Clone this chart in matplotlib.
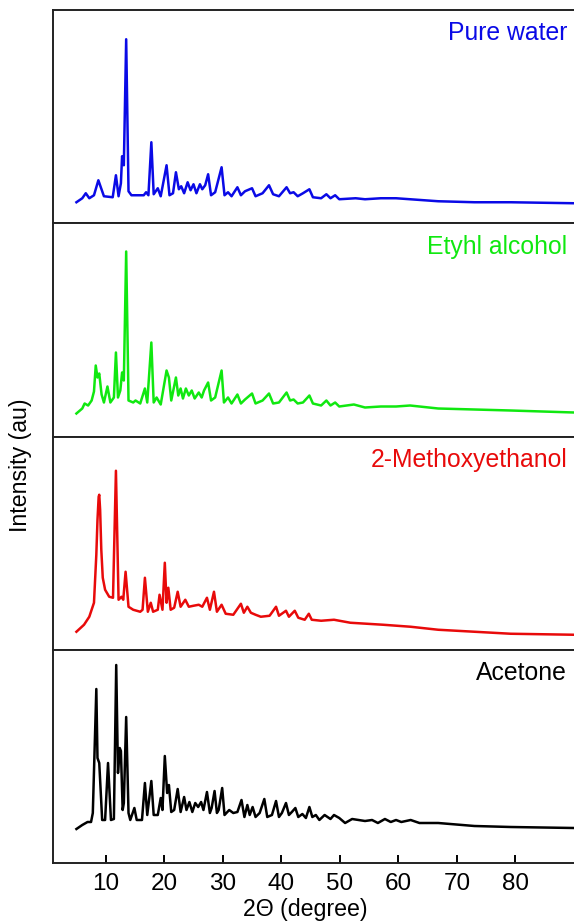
import matplotlib
matplotlib.use('Agg')
import matplotlib.pyplot as plt
import numpy as np

# XRD traces (2theta, intensity), intensity in arbitrary units
water = [(5.0, 21), (6.0, 25), (6.6, 30), (7.2, 25), (8.0, 28), (8.75, 43), (9.7, 27), (11.2, 26),
         (11.75, 48), (12.2, 27), (12.6, 40), (12.8, 67), (13.1, 58), (13.5, 184), (13.9, 32),
         (14.4, 28), (16.5, 28), (16.9, 31), (17.3, 28), (17.8, 81), (18.2, 29), (18.9, 35),
         (19.4, 27), (20.4, 58), (20.9, 28), (21.5, 30), (22.0, 51), (22.5, 34), (22.9, 37),
         (23.4, 30), (24.0, 41), (24.5, 33), (25.0, 39), (25.5, 30), (26.1, 39), (26.5, 34),
         (27.0, 38), (27.5, 49), (28.0, 28), (28.7, 31), (29.8, 56), (30.3, 28), (30.9, 31),
         (31.5, 27), (32.5, 36), (33.1, 28), (33.8, 32), (35.0, 35), (35.6, 27), (36.8, 30),
         (37.9, 38), (38.6, 29), (39.6, 27), (40.9, 36), (41.5, 30), (42.1, 31), (42.8, 27),
         (43.7, 30), (44.8, 34), (45.4, 26), (46.8, 25), (47.7, 29), (48.4, 25), (49.2, 28),
         (49.9, 24), (52.7, 25), (54.3, 24), (57, 25), (59.6, 25), (62, 24), (66.8, 22),
         (73, 21), (79.2, 21), (90, 20)]

ethyl = [(5.0, 23), (6.0, 28), (6.4, 33), (7.0, 31), (7.6, 36), (8.0, 45), (8.3, 71), (8.6, 59),
         (8.9, 63), (9.3, 42), (9.7, 34), (10.3, 50), (10.8, 34), (11.4, 39), (11.75, 84),
         (12.1, 39), (12.5, 46), (12.8, 64), (13.1, 56), (13.5, 185), (13.9, 36), (14.7, 34),
         (15.1, 36), (15.9, 33), (16.7, 48), (17.1, 34), (17.8, 94), (18.2, 34), (18.7, 39),
         (19.4, 32), (20.4, 66), (20.8, 59), (21.2, 36), (22.0, 59), (22.4, 41), (22.8, 48),
         (23.2, 38), (23.7, 48), (24.2, 41), (24.7, 46), (25.2, 38), (25.9, 44), (26.4, 39),
         (26.8, 46), (27.5, 54), (28.0, 36), (28.7, 39), (29.8, 66), (30.2, 34), (30.9, 39),
         (31.5, 33), (32.5, 42), (33.1, 33), (33.8, 37), (35.0, 43), (35.6, 33), (36.8, 36),
         (37.9, 43), (38.6, 33), (39.6, 34), (40.9, 44), (41.5, 36), (42.1, 37), (42.8, 33),
         (43.7, 34), (44.8, 41), (45.4, 33), (46.8, 31), (47.7, 36), (48.4, 31), (49.2, 34),
         (49.9, 30), (52.4, 32), (54.3, 29), (57, 30), (59.6, 30), (62, 31), (66.8, 28),
         (73, 27), (79.2, 26), (90, 24)]

methoxy = [(5.0, 18), (6.3, 25), (7.2, 33), (8.0, 47), (8.4, 95), (8.6, 130), (8.8, 153),
           (8.9, 155), (9.05, 140), (9.25, 100), (9.5, 72), (9.9, 60), (10.6, 53), (11.25, 52),
           (11.75, 179), (12.2, 50), (12.7, 53), (13.0, 50), (13.4, 78), (13.9, 43), (14.7, 40),
           (15.9, 38), (16.3, 40), (16.7, 72), (17.2, 38), (17.7, 47), (18.1, 38), (18.9, 40),
           (19.2, 55), (19.7, 40), (20.1, 87), (20.4, 47), (20.7, 62), (21.1, 40), (21.7, 42),
           (22.3, 58), (22.8, 43), (23.6, 50), (24.2, 43), (25.0, 44), (25.9, 45), (26.5, 43),
           (27.3, 52), (27.8, 40), (28.5, 58), (29.0, 38), (29.8, 45), (30.5, 36), (31.8, 35),
           (33.1, 46), (33.6, 37), (34.2, 43), (34.8, 37), (35.6, 35), (36.5, 33), (38.0, 34),
           (39.1, 43), (39.6, 34), (40.8, 39), (41.3, 33), (42.3, 39), (42.9, 32), (44.0, 30),
           (44.7, 36), (45.2, 30), (46.8, 29), (49, 30), (51.8, 27), (57.4, 25), (62.1, 23),
           (66.8, 20), (73, 18), (79.2, 16), (90, 15)]

acetone = [(5.0, 34), (6.0, 38), (6.9, 41), (7.5, 41), (7.8, 50), (8.4, 174), (8.6, 105), (8.9, 100),
           (9.4, 43), (9.9, 43), (10.4, 100), (10.9, 43), (11.4, 44), (11.8, 198), (12.1, 90),
           (12.4, 115), (12.6, 112), (12.9, 53), (13.1, 60), (13.5, 146), (13.9, 50), (14.2, 43),
           (14.9, 55), (15.3, 43), (16.2, 43), (16.7, 80), (17.1, 48), (17.8, 82), (18.2, 48),
           (18.9, 48), (19.4, 65), (19.7, 53), (20.1, 107), (20.5, 70), (20.8, 78), (21.2, 51),
           (21.7, 53), (22.3, 74), (22.8, 51), (23.4, 66), (23.8, 53), (24.3, 61), (24.8, 51),
           (25.3, 60), (25.8, 56), (26.3, 61), (26.7, 53), (27.3, 71), (27.8, 50), (28.1, 55),
           (28.6, 72), (29.0, 50), (29.3, 53), (29.9, 75), (30.3, 48), (31.1, 53), (31.8, 50),
           (32.5, 51), (33.2, 63), (33.7, 46), (34.2, 58), (34.6, 48), (35.1, 56), (35.6, 46),
           (36.3, 50), (37.1, 64), (37.6, 46), (38.4, 48), (39.1, 62), (39.6, 46), (40.1, 50),
           (40.8, 60), (41.3, 48), (41.8, 51), (42.4, 55), (42.9, 46), (43.6, 49), (44.2, 45),
           (44.8, 56), (45.3, 46), (45.9, 48), (46.5, 43), (47.4, 48), (48.4, 44), (49.0, 48),
           (49.9, 45), (50.9, 40), (52.1, 44), (54.3, 42), (55.5, 43), (56.5, 40), (57.7, 44),
           (58.7, 41), (59.6, 43), (60.5, 41), (62.1, 43), (63.6, 40), (66.8, 40), (73, 37),
           (79.2, 36), (90, 35)]

samples = ['Pure water', 'Etyhl alcohol', '2-Methoxyethanol', 'Acetone']
traces = [water, ethyl, methoxy, acetone]
colors = ['#0a0ae6', '#10e810', '#e80a0a', '#000000']
xticks = [10, 20, 30, 40, 50, 60, 70, 80]

plt.rcParams['font.family'] = ['Liberation Sans', 'DejaVu Sans']

W, H = 574, 924
fig = plt.figure(figsize=(W / 100, H / 100), dpi=100)

top_px, bot_px = 10, 863
panel_h = (bot_px - top_px) / 4
left_px = 53

for i, (name, tr, c) in enumerate(zip(samples, traces, colors)):
    y0 = top_px + (i + 1) * panel_h
    ax = fig.add_axes([left_px / W, 1 - y0 / H, (W - left_px) / W, panel_h / H])
    tr = np.array(tr)
    ax.plot(tr[:, 0], tr[:, 1], color=c, lw=1.8, solid_joinstyle='round')
    ax.set_xlim(1, 90)
    ax.set_ylim(0, panel_h)
    ax.set_yticks([])
    ax.spines['right'].set_visible(False)
    for s in ['top', 'bottom', 'left']:
        ax.spines[s].set_linewidth(1.4)
        ax.spines[s].set_color('#222222')
    ax.text(0.987, 0.89, name, transform=ax.transAxes, ha='right', va='center',
            color=c, fontsize=17.8)
    if i < 3:
        ax.set_xticks([])
    else:
        ax.set_xticks(xticks)
        ax.tick_params(axis='x', direction='in', length=6, width=1.4, labelsize=17.5, pad=7)
        ax.set_xlabel('2\u0398 (degree)', fontsize=16.7, labelpad=2)
        ax.xaxis.set_label_coords(0.484, -0.162)

fig.text(21 / W, 1 - 465 / H, 'Intensity (au)', rotation=90, ha='center', va='center', fontsize=16.7)

fig.savefig('out.png', dpi=100)
